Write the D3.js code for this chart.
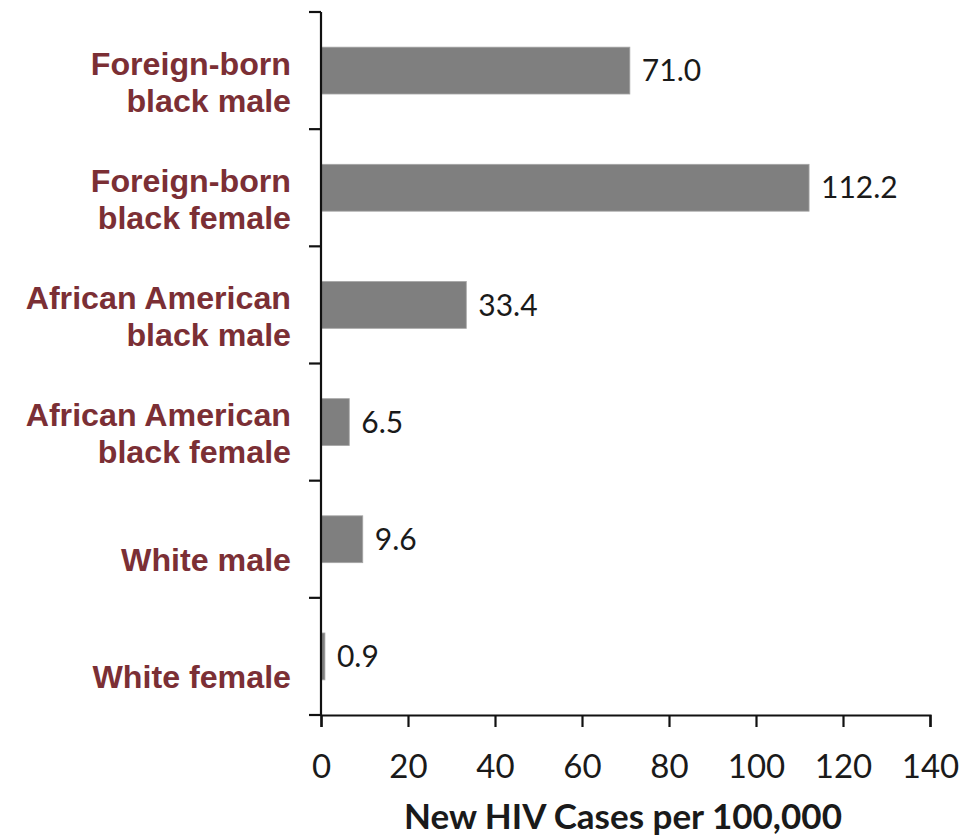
<!DOCTYPE html>
<html>
<head>
<meta charset="utf-8">
<script src="https://cdn.jsdelivr.net/npm/d3@7"></script>
<style>
  body { margin: 0; background: #fff; }
  .cat { font-family: "Liberation Sans", Arial, sans-serif; font-weight: bold; fill: #7b2f35; }
  .val, .tick text { font-family: Lato, "Open Sans", sans-serif; fill: #1a1a1a; }
</style>
</head>
<body>
<svg id="chart" width="976" height="836"></svg>
<script>
// categories, top to bottom (label lines)
var categories = [
  ["Foreign-born", "black male"],
  ["Foreign-born", "black female"],
  ["African American", "black male"],
  ["African American", "black female"],
  ["White male"],
  ["White female"]
];
var values = [71.0, 112.2, 33.4, 6.5, 9.6, 0.9];
var xTicks = [0, 20, 40, 60, 80, 100, 120, 140];
var xTitle = "New HIV Cases per 100,000";

var svg = d3.select("#chart");
var plotLeft = 321, plotRight = 930, plotTop = 12, plotBottom = 715;

var x = d3.scaleLinear().domain([0, 140]).range([plotLeft, plotRight]);
var y = d3.scaleBand().domain(d3.range(categories.length)).range([plotTop, plotBottom])
          .paddingInner(0.6).paddingOuter(0.3);

// bars
svg.append("g").selectAll("rect").data(values).enter().append("rect")
   .attr("x", x(0)).attr("y", function(d, i) { return y(i); })
   .attr("width", function(d) { return x(d) - x(0); }).attr("height", y.bandwidth())
   .attr("fill", "#7f7f7f").attr("stroke", "#a6a6a6").attr("stroke-width", 0.8);

// value labels
svg.append("g").selectAll("text").data(values).enter().append("text").attr("class", "val")
   .attr("x", function(d) { return x(d) + 12; })
   .attr("y", function(d, i) { return y(i) + y.bandwidth() / 2 + 3; })
   .attr("dominant-baseline", "middle").attr("font-size", 30)
   .text(function(d) { return d.toFixed(1); });

// x axis
var xg = svg.append("g").attr("transform", "translate(0," + plotBottom + ")")
   .call(d3.axisBottom(x).tickValues(xTicks).tickSize(12).tickPadding(28).tickSizeOuter(12));
xg.select(".domain").attr("stroke", "#111").attr("stroke-width", 2.2);
xg.selectAll(".tick line").attr("stroke", "#111").attr("stroke-width", 2.2);
xg.selectAll(".tick text").attr("font-size", 33);

// y axis line and tick marks at band boundaries
var step = y.step();
svg.append("line").attr("x1", plotLeft).attr("x2", plotLeft).attr("y1", plotTop).attr("y2", plotBottom)
   .attr("stroke", "#111").attr("stroke-width", 2.2);
svg.append("g").selectAll("line").data(d3.range(categories.length + 1)).enter().append("line")
   .attr("x1", plotLeft - 12).attr("x2", plotLeft)
   .attr("y1", function(i) { return plotTop + i * step; }).attr("y2", function(i) { return plotTop + i * step; })
   .attr("stroke", "#111").attr("stroke-width", 2.2);

// category labels
var lineH = 37;
svg.append("g").selectAll("text").data(categories).enter().append("text").attr("class", "cat")
   .attr("text-anchor", "end").attr("font-size", 32.2)
   .each(function(lines, i) {
     var cy = y(i) + y.bandwidth() / 2 + (lines.length > 1 ? 14 : 23);
     var y0 = cy - (lines.length - 1) * lineH / 2;
     d3.select(this).selectAll("tspan").data(lines).enter().append("tspan")
       .attr("x", 291).attr("y", function(d, j) { return y0 + j * lineH; })
       .attr("dominant-baseline", "middle").text(function(d) { return d; });
   });

// x title
svg.append("text").attr("x", 623).attr("y", 820).attr("text-anchor", "middle")
   .attr("dominant-baseline", "middle")
   .attr("font-family", "Lato, 'Open Sans', sans-serif").attr("font-weight", "bold")
   .attr("font-size", 35).attr("fill", "#1a1a1a").text(xTitle);
</script>
</body>
</html>
